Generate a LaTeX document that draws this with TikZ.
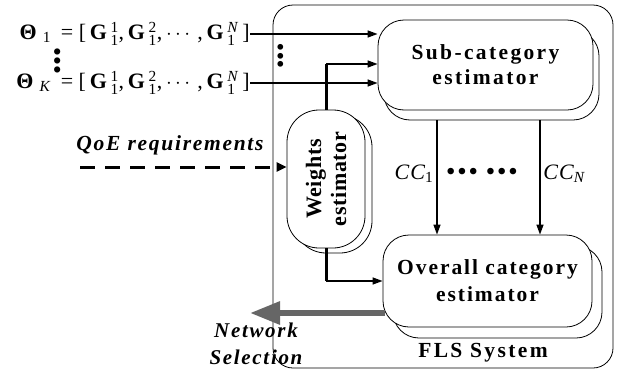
\documentclass[tikz,border=0pt]{standalone}
\usepackage{amsmath}
\usepackage{fontspec}
\setmainfont{Liberation Serif}
\usetikzlibrary{arrows.meta}
\newcommand\Gq[1]{\textbf{G}\,$^{\text{#1}}_{\text{1}}$}
\begin{document}
\begin{tikzpicture}[x=1pt,y=-1pt,
  box/.style={draw, line width=0.8pt, fill=white, rounded corners=26pt, inner sep=0pt},
  lab/.style={font=\fontsize{21.5}{25}\selectfont\bfseries\addfontfeature{LetterSpace=11}, align=center},
  arr/.style={line width=1.4pt, -{Triangle[length=10pt,width=7pt]}},
  thick line/.style={line width=3pt},
  formula/.style={font=\fontsize{22}{23}\selectfont, anchor=east, inner sep=0pt}
]
\useasboundingbox (0,0) rectangle (619,370);
% FLS system box
\node[draw, line width=0.8pt, rounded corners=20pt, minimum width=340pt, minimum height=363pt, inner sep=0pt] (fls) at (443,186.5) {};
\node[lab] (flsl) at (483,353) {FLS System};
% Sub-category estimator
\node[box, minimum width=215pt, minimum height=90pt] (subb) at (491.5,75) {};
\node[box, minimum width=215pt, minimum height=90pt, lab] (sub) at (485.5,65) {Sub-category\\estimator};
% Overall category estimator
\node[box, minimum width=209pt, minimum height=92pt] (ovb) at (497.5,292) {};
\node[box, minimum width=209pt, minimum height=92pt, lab, font=\fontsize{21.5}{27}\selectfont\bfseries\addfontfeature{LetterSpace=9}] (ov) at (487.5,281) {Overall category\\estimator};
% Weights estimator
\node[box, rounded corners=32pt, minimum width=78pt, minimum height=138pt] (wb) at (333,184) {};
\node[box, rounded corners=32pt, minimum width=78pt, minimum height=138pt] (w) at (326,179) {};
\node[lab, rotate=90, font=\fontsize{22}{25}\selectfont\bfseries\addfontfeature{LetterSpace=3}] (wl) at (w.center) {Weights\\estimator};
% Theta formulas
\node[formula] (th1) at (250,34) {\textbf{Θ}\;$_{\text{1}}$\;\,= [\,\Gq{1},\,\Gq{2},\,$\cdots$\,,\,\Gq{\textit{N}}\,]};
\node[formula] (thK) at (250,83) {\textbf{Θ}\;$_{\text{\textit{K}}}$\;\,= [\,\Gq{1},\,\Gq{2},\,$\cdots$\,,\,\Gq{\textit{N}}\,]};
\node[font=\fontsize{26}{26}\selectfont, rotate=90, inner sep=0pt] (vd1) at (60,61) {•••};
\node[font=\fontsize{24}{24}\selectfont, rotate=90, inner sep=0pt] (vd2) at (283,56) {•••};
\draw[arr] (th1.east) -- (th1.east -| sub.west);
\draw[arr] (thK.east) -- (thK.east -| sub.west);
% weights to sub
\coordinate (wk) at (326,64);
\draw[thick line] (w.north) -- (wk);
\draw[arr] (wk) -- (wk -| sub.west);
% weights to overall
\coordinate (wo) at (326,281);
\draw[thick line] (w.south) -- (wo);
\draw[arr] (wo) -- (ov.west);
% CC arrows
\draw[arr] ([xshift=-54.5pt]subb.south) -- ([xshift=-50.5pt]ov.north);
\draw[arr] ([xshift=48.5pt]subb.south) -- ([xshift=52.5pt]ov.north);
\node[font=\fontsize{22}{23}\selectfont\itshape\addfontfeature{LetterSpace=5}] (cc1) at (414,174) {CC$_{\text{\upshape 1}}$};
\node[font=\fontsize{22}{23}\selectfont\itshape\addfontfeature{LetterSpace=5}] (ccn) at (564,174) {CC$_{\text{\itshape N}}$};
\node[font=\fontsize{24}{24}\selectfont\bfseries\addfontfeature{LetterSpace=12}] (dots) at (482,174) {••• •••};
% QoE
\node[lab, font=\fontsize{21.5}{23}\selectfont\bfseries\itshape\addfontfeature{LetterSpace=8}] (qoe) at (170,145) {QoE requirements};
\coordinate (qs) at (80,167);
\draw[line width=3pt, dash pattern=on 15pt off 10pt, -{Triangle[length=10pt,width=9pt]}] (qs) -- (qs -| w.west);
% Network selection
\coordinate (ns) at (385,313);
\coordinate (ne) at (250,313);
\draw[line width=6pt, color=black!60, -{Triangle[length=30pt,width=22pt]}] (ns) -- (ne);
\node[lab, font=\fontsize{21}{27}\selectfont\bfseries\itshape\addfontfeature{LetterSpace=8}] (net) at (256,344) {Network\\Selection};
\end{tikzpicture}
\end{document}
